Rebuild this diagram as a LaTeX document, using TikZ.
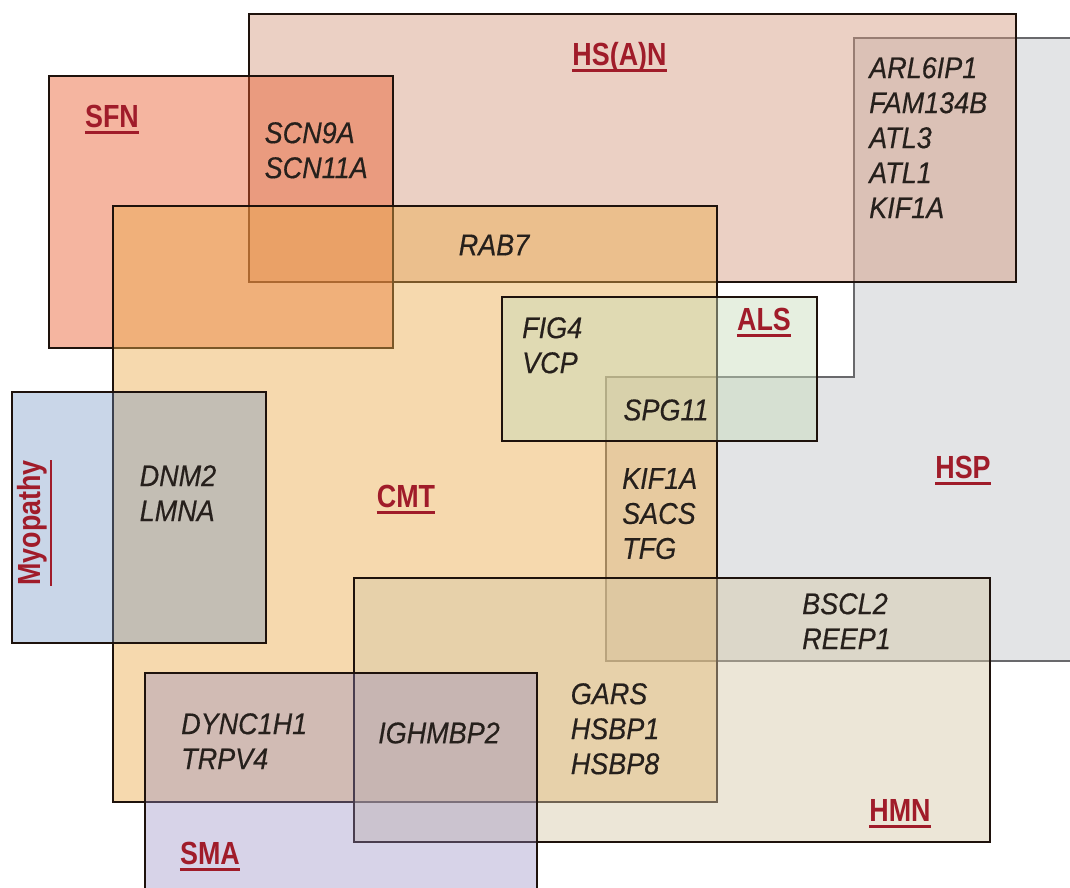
\documentclass[tikz,border=0pt]{standalone}
\usepackage{fontspec}
\setmainfont{Liberation Sans}
\newfontfamily\labfont[FakeStretch=0.84]{Liberation Sans}
\newfontfamily\genefont[FakeStretch=0.9,FakeBold=0.4]{Liberation Sans}
\definecolor{hspc}{RGB}{193,195,199}
\definecolor{hsanc}{RGB}{211,151,124}
\definecolor{sfnc}{RGB}{233,91,44}
\definecolor{cmtc}{RGB}{235,171,75}
\definecolor{alsc}{RGB}{199,219,186}
\definecolor{myoc}{RGB}{109,144,193}
\definecolor{hmnc}{RGB}{213,199,166}
\definecolor{smac}{RGB}{147,136,193}
\definecolor{setedge}{RGB}{30,18,12}
\definecolor{hspedge}{RGB}{105,105,108}
\definecolor{genetxt}{RGB}{38,32,28}
\definecolor{labred}{RGB}{160,28,42}
\begin{document}
\begin{tikzpicture}[x=1pt,y=-1pt,
  setbox/.style={fill opacity=0.45, draw=setedge, line width=2.6pt, line join=miter},
  lightbox/.style={setbox, fill opacity=0.37},
  gene/.style={inner sep=0pt, text=genetxt, font=\genefont\fontsize{30}{35}\selectfont\itshape, align=left},
  lab/.style={inner sep=0pt, anchor=base, text=labred, font=\labfont\fontsize{32}{32}\selectfont\bfseries},
  ul/.style={draw=labred, line width=2.2pt}]
\useasboundingbox (0,0) rectangle (1070,887);
\clip (0,0) rectangle (1070,887);
% sets (fills with borders)
\path[setbox, fill=hspc, draw=hspedge, line width=1.8pt]
  (854,38) -- (1085,38) -- (1085,661) -- (606,661) -- (606,377) -- (854,377) -- cycle;
\path[setbox, fill=hsanc] (249,14) rectangle (1016,282);
\path[setbox, fill=sfnc] (49,76) rectangle (393,348);
\path[setbox, fill=cmtc] (113,206) rectangle (717,802);
\path[setbox, fill=alsc] (502,297) rectangle (817,441);
\path[lightbox, fill=myoc] (12,392) rectangle (266,643);
\path[setbox, fill=hmnc] (354,578) rectangle (990,842);
\path[lightbox, fill=smac] (145,673) rectangle (537,900);
% set labels
\node[lab] (sfn) at (112,127) {SFN};
\node[lab] (hsan) at (619.5,65) {HS(A)N};
\node[lab] (als) at (764,330) {ALS};
\node[lab] (cmt) at (406,507) {CMT};
\node[lab] (hsp) at (963,478) {HSP};
\node[lab] (hmn) at (900,821) {HMN};
\node[lab] (sma) at (210,864) {SMA};
\node[lab, rotate=90] (myo) at (40,523) {Myopathy};
\foreach \n in {sfn,hsan,als,cmt,hsp,hmn,sma}
  \draw[ul] ([yshift=-5.5pt]\n.base west) -- ([yshift=-5.5pt]\n.base east);
\draw[ul] ([xshift=11pt]myo.base west) -- ([xshift=11pt]myo.base east);
% genes
\node[gene, anchor=north west] (scn) at (264.5,122) {\fontsize{30}{36}\selectfont SCN9A\\SCN11A};
\node[gene, anchor=north west] (arl) at (869,57) {ARL6IP1\\FAM134B\\ATL3\\ATL1\\KIF1A};
\node[gene] (rab) at (494,245) {RAB7};
\node[gene, anchor=north west] (fig) at (522,317) {\fontsize{30}{31}\selectfont FIG4\\VCP};
\node[gene] (spg) at (666,410) {SPG11};
\node[gene, anchor=north west] (dnm) at (139.5,465) {\fontsize{30}{37}\selectfont DNM2\\LMNA};
\node[gene, anchor=north west] (kif) at (622,468) {KIF1A\\SACS\\TFG};
\node[gene, anchor=north west] (bscl) at (802,593) {BSCL2\\REEP1};
\node[gene, anchor=north west] (gars) at (570.6,683) {GARS\\HSBP1\\HSBP8};
\node[gene, anchor=north west] (dync) at (181,713) {\fontsize{30}{37}\selectfont DYNC1H1\\TRPV4};
\node[gene] (igh) at (439,733) {IGHMBP2};
\end{tikzpicture}
\end{document}
